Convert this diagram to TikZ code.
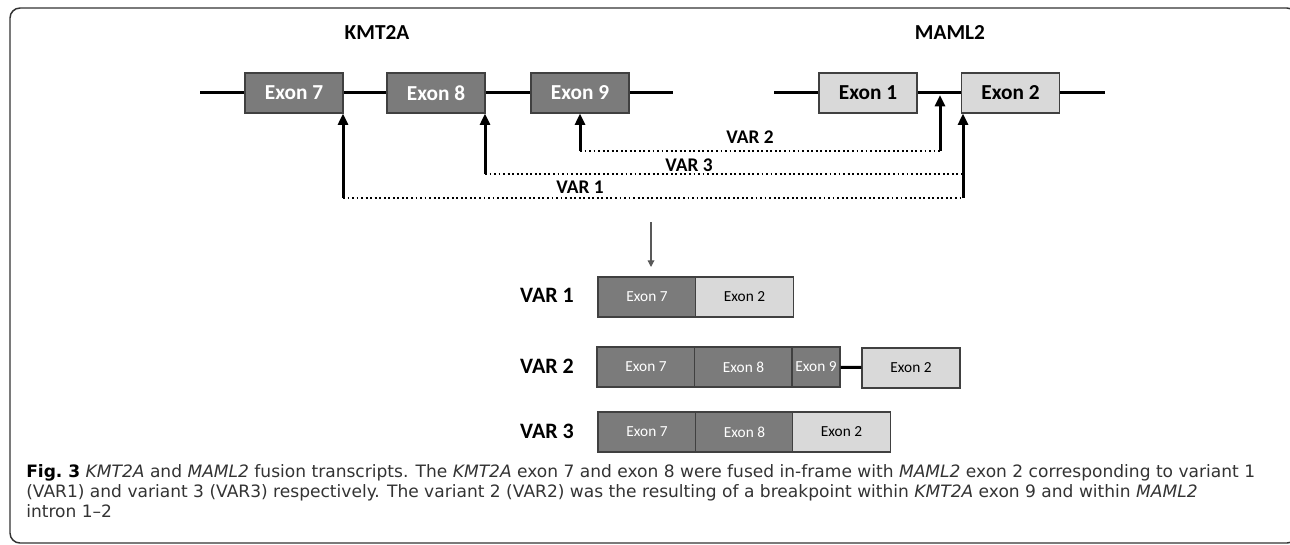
\documentclass[tikz,border=0pt]{standalone}
\usepackage{fontspec}
\setmainfont{Carlito}
\newfontfamily\capfont{DejaVu Sans}
\usetikzlibrary{arrows.meta}
\definecolor{exondark}{HTML}{7B7B7B}
\definecolor{exonlight}{HTML}{D9D9D9}
\definecolor{boxline}{HTML}{404040}
\definecolor{captext}{HTML}{333333}

\begin{document}
\begin{tikzpicture}[x=0.75pt,y=-0.75pt,
        darkexon/.style={draw=boxline, line width=0.9pt, fill=exondark, text=white, minimum width=73.5pt, minimum height=30pt, inner sep=0pt, font=\bfseries\fontsize{16}{18}\selectfont},
        lightexon/.style={darkexon, fill=exonlight, text=black},
        darkbar/.style={darkexon, font=\fontsize{11.5}{13}\selectfont},
        lightbar/.style={lightexon, font=\fontsize{11.5}{13}\selectfont},
        gene/.style={line width=2.25pt},
        brk/.style={line width=2.25pt, -{Triangle[length=8.5pt,width=7.5pt]}},
        fuse/.style={line width=1.4pt, dotted},
        varlabel/.style={inner sep=0pt, font=\bfseries\fontsize{14.5}{16}\selectfont},
        rowlabel/.style={inner sep=0pt, font=\bfseries\fontsize{16.5}{18}\selectfont},
        capline/.style={anchor=base west, inner sep=0pt, text=captext, font=\capfont\fontsize{12.8}{14}\selectfont}]
        \useasboundingbox (0,0) rectangle (1290,544);
        \draw[black!80, line width=1.1pt, rounded corners=7.5pt] (10,8) rectangle (1297,543);

        % genes
        \node[font=\bfseries\fontsize{16}{18}\selectfont] (kmt) at (377,32) {KMT2A};
        \node[font=\bfseries\fontsize{16}{18}\selectfont] (maml) at (950,32) {MAML2};
        \coordinate (k0) at (200,92);
        \coordinate (k1) at (673,92);
        \coordinate (m0) at (774,92);
        \coordinate (m1) at (1105,92);
        \draw[gene] (k0) -- (k1);
        \draw[gene] (m0) -- (m1);
        \node[darkexon] (e7) at (294,93) {Exon 7};
        \node[darkexon] (e8) at (436,93) {Exon 8};
        \node[darkexon] (e9) at (580,93) {Exon 9};
        \node[lightexon] (x1) at (868,93) {Exon 1};
        \node[lightexon] (x2) at (1010.5,93) {Exon 2};

        % breakpoints
        \coordinate (b1) at (343,198);
        \coordinate (b1r) at (963,198);
        \coordinate (b3) at (485,174);
        \coordinate (b3r) at (963,174);
        \coordinate (b2) at (580,151);
        \coordinate (b2r) at (940,151);
        \coordinate (i12) at (940,95);
        \draw[fuse] (b1) -- (b1r);
        \draw[fuse] (b3) -- (b3r);
        \draw[fuse] (b2) -- (b2r);
        \draw[brk] (b1) -- (b1 |- e7.south);
        \draw[brk] (b3) -- (b3 |- e8.south);
        \draw[brk] (b2) -- (e9.south);
        \draw[brk] (b1r) -- (b1r |- x2.south);
        \draw[brk] (b2r) -- (i12);
        \node[varlabel] (l2) at (750,137) {VAR 2};
        \node[varlabel] (l3) at (689,165) {VAR 3};
        \node[varlabel] (l1) at (580,187) {VAR 1};

        \coordinate (s0) at (651,222);
        \coordinate (s1) at (651,267);
        \draw[black!65, line width=0.9pt, -{Triangle[length=5pt,width=5pt]}] (s0) -- (s1);

        % transcripts
        \node[rowlabel] (r1) at (547,295) {VAR 1};
        \node[darkbar] (a7) at (647,297) {Exon 7};
        \node[lightbar] (a2) at (744.5,297) {Exon 2};

        \node[rowlabel] (r2) at (547,366) {VAR 2};
        \node[darkbar] (c7) at (646,367) {Exon 7};
        \node[darkbar] (c8) at (743.5,367) {Exon 8};
        \node[darkbar, minimum width=36pt] (c9) at (816,367) {Exon 9};
        \node[lightbar] (c2) at (911,368) {Exon 2};
        \draw[gene] (c9) -- (c2);

        \node[rowlabel] (r3) at (547,431) {VAR 3};
        \node[darkbar] (d7) at (647,432) {Exon 7};
        \node[darkbar] (d8) at (744.5,432) {Exon 8};
        \node[lightbar] (d2) at (841.5,432) {Exon 2};

        % caption
        \node[capline] (cap1) at (26,477) {\textcolor{black}{\textbf{Fig.~3}} \textit{KMT2A} and \textit{MAML2} fusion transcripts. The \textit{KMT2A} exon 7 and exon 8 were fused in-frame with \textit{MAML2} exon 2 corresponding to variant 1};
        \node[capline] (cap2) at (26,497) {(VAR1) and variant 3 (VAR3) respectively. The variant 2 (VAR2) was the resulting of a breakpoint within \textit{KMT2A} exon 9 and within \textit{MAML2}};
        \node[capline] (cap3) at (26,517) {intron 1–2};
    \end{tikzpicture}
\end{document}
